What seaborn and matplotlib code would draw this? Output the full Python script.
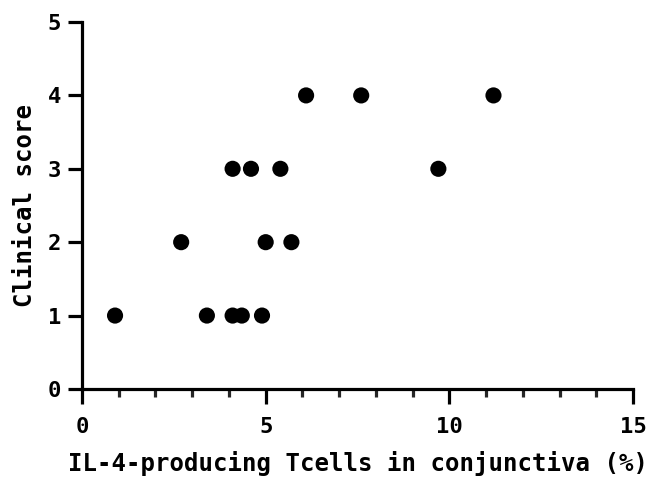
import matplotlib
matplotlib.use('Agg')
import matplotlib.pyplot as plt
import seaborn as sns
import pandas as pd
from matplotlib.ticker import MultipleLocator

# Данные с графика
il4_tcells = [0.9, 3.4, 4.1, 4.35, 4.9, 2.7, 5.0, 5.7, 4.1, 4.6, 5.4, 9.7, 6.1, 7.6, 11.2]
clinical_score = [1, 1, 1, 1, 1, 2, 2, 2, 3, 3, 3, 3, 4, 4, 4]

df = pd.DataFrame({'il4': il4_tcells, 'score': clinical_score})

sns.set_style('ticks')
plt.rcParams['font.family'] = ['DejaVu Sans Mono', 'DejaVu Sans']
plt.rcParams['font.weight'] = 'bold'
plt.rcParams['text.color'] = 'black'
plt.rcParams['axes.labelcolor'] = 'black'

fig = plt.figure(figsize=(6.48, 4.79), dpi=100)
ax = fig.add_axes([0.1265, 0.188, 0.8505, 0.766])

sns.scatterplot(x='il4', y='score', data=df, ax=ax, color='black', s=135,
                edgecolor='none', clip_on=False)

ax.set_xlim(0, 15)
ax.set_ylim(0, 5)
ax.xaxis.set_major_locator(MultipleLocator(5))
ax.xaxis.set_minor_locator(MultipleLocator(1))
ax.yaxis.set_major_locator(MultipleLocator(1))

sns.despine(ax=ax)
for side in ['left', 'bottom']:
    ax.spines[side].set_linewidth(2.3)
    ax.spines[side].set_color('black')

ax.tick_params(axis='both', which='major', width=2.3, length=10, labelsize=16,
               colors='black', pad=5)
ax.tick_params(axis='x', which='major', length=11, pad=9)
ax.tick_params(axis='x', which='minor', width=2.3, length=6)

ax.set_xlabel('IL-4-producing Tcells in conjunctiva (%)', fontsize=17.3,
              fontweight='bold', labelpad=10, color='black')
ax.set_ylabel('Clinical score', fontsize=17.3, fontweight='bold', labelpad=8,
              color='black')

plt.savefig('out.png', dpi=100)
